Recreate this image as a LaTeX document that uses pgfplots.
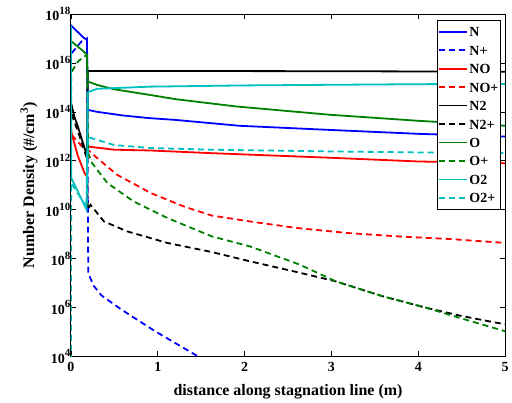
\documentclass[border=0pt]{standalone}
\usepackage{fontspec}
\setmainfont{Liberation Serif}
\usepackage{pgfplots}
\pgfplotsset{compat=1.18}
\definecolor{mblue}{rgb}{0,0,1}
\definecolor{mred}{rgb}{1,0,0}
\definecolor{mgreen}{rgb}{0,0.5,0}
\definecolor{mcyan}{rgb}{0,0.75,0.75}
\newcommand{\tp}[1]{10\raisebox{0.45em}{\fontsize{11}{11}\selectfont #1}}
\begin{document}
\begin{tikzpicture}
\begin{axis}[
  name=ax,
  scale only axis,
  width=435pt, height=343pt,
  ymode=log,
  xmin=0, xmax=5, ymin=1e4, ymax=1e18,
  xtick={0,1,2,3,4,5},
  xticklabels={0,1,2,3,4,5},
  ytick={1e4,1e6,1e8,1e10,1e12,1e14,1e16,1e18},
  yticklabels={\tp{4},\tp{6},\tp{8},\tp{10},\tp{12},\tp{14},\tp{16},\tp{18}},
  minor tick num=0,
  yminorticks=false,
  tick align=inside,
  major tick length=5pt,
  ticklabel style={font=\bfseries\fontsize{14}{14}\selectfont},
  yticklabel style={xshift=3pt},
  xticklabel style={yshift=-2pt},
  label style={font=\bfseries\fontsize{16}{18}\selectfont},
  xlabel={distance along stagnation line (m)},
  ylabel={Number Density (\#/cm\textsuperscript{3})},
  xlabel style={yshift=-6pt},
  ylabel style={yshift=1pt},
  axis line style={line width=0.8pt},
  every tick/.style={black, line width=0.6pt},
  legend style={at={(rel axis cs:0.991,0.983)}, anchor=north east,
    font=\bfseries\fontsize{14}{14}\selectfont, draw=black, line width=0.8pt,
    row sep=3.5pt, inner xsep=1pt, inner ysep=4pt,
    nodes={inner xsep=1.5pt, inner ysep=2.5pt, text height=10pt, text depth=0pt}},
  legend cell align=left,
  legend image code/.code={\draw[#1, line cap=butt] (0pt,0pt) -- (28pt,0pt);},
  clip=true,
]
% N
\addplot[mblue, line width=1.8pt] coordinates {(0,3.55e17)(0.01,3.16e17)(0.15,1.05e17)(0.185,8.71e16)(0.195,1.20e14)(0.3,1.0e14)(0.6,7.08e13)(0.91,5.50e13)(1.2,4.68e13)(1.94,2.69e13)(2.98,1.82e13)(4.0,1.26e13)(5,9.77e12)};
\addlegendentry{N}
% N+
\addplot[mblue, line width=1.8pt, dash pattern=on 6pt off 4pt] coordinates {(0.01,2.51e16)(0.12,7.41e16)(0.185,1.0e17)(0.2,2.51e7)(0.26,7.94e6)(0.35,3.16e6)(0.58,8.32e5)(0.97,1.07e5)(1.46,1.02e4)(1.6,5.0e3)};
\addlegendentry{N+}
% NO
\addplot[mred, line width=1.8pt] coordinates {(0,2.51e13)(0.01,1.26e13)(0.08,1.58e12)(0.157,3.16e11)(0.185,2.24e11)(0.195,3.80e12)(0.5,2.82e12)(0.91,2.63e12)(1.62,2.04e12)(3,1.32e12)(4,9.33e11)(5,7.94e11)};
\addlegendentry{NO}
% NO+
\addplot[mred, line width=1.8pt, dash pattern=on 6pt off 4pt] coordinates {(0.01,1.12e13)(0.15,3.16e12)(0.195,2.82e12)(0.28,1.51e12)(0.53,2.69e11)(0.92,4.79e10)(1.30,1.35e10)(1.62,5.75e9)(2.06,3.31e9)(2.6,1.78e9)(3.2,1.10e9)(3.8,7.94e8)(4.36,6.31e8)(5,4.37e8)};
\addlegendentry{NO+}
% N2
\addplot[black, line width=1.8pt] coordinates {(0,2.51e14)(0.04,6.31e13)(0.08,2.51e13)(0.15,3.98e12)(0.185,1.58e12)(0.195,4.68e15)(1,4.68e15)(3,4.57e15)(5,4.37e15)};
\addlegendentry{N2}
% N2+
\addplot[black, line width=1.8pt, dash pattern=on 6pt off 4pt] coordinates {(0.01,7.94e13)(0.1,1.0e13)(0.185,1.26e12)(0.195,1.0e10)(0.226,1.58e10)(0.38,3.31e9)(0.65,1.29e9)(1.11,4.37e8)(1.62,1.86e8)(2.06,7.76e7)(2.6,2.82e7)(3.05,1.17e7)(3.59,2.88e6)(4.09,9.77e5)(4.5,4.47e5)(5,2.04e5)};
\addlegendentry{N2+}
% O
\addplot[mgreen, line width=1.8pt] coordinates {(0,7.94e16)(0.01,7.41e16)(0.15,2.88e16)(0.185,2.14e16)(0.195,1.74e15)(0.3,1.26e15)(0.5,8.32e14)(0.91,4.90e14)(1.2,3.31e14)(1.9,1.66e14)(2.98,7.59e13)(4.01,4.27e13)(5,2.69e13)};
\addlegendentry{O}
% O+
\addplot[mgreen, line width=1.8pt, dash pattern=on 6pt off 4pt] coordinates {(0,1e3)(0.003,3.98e15)(0.08,1.12e16)(0.15,1.82e16)(0.185,2.0e16)(0.2,2.0e12)(0.245,7.94e11)(0.42,1.23e11)(0.72,2.19e10)(1.11,4.57e9)(1.62,8.13e8)(2.06,3.16e8)(2.63,5.75e7)(3.05,1.17e7)(3.59,2.88e6)(4.09,9.77e5)(4.5,3.55e5)(5,1.07e5)};
\addlegendentry{O+}
% O2
\addplot[mcyan, line width=1.8pt] coordinates {(0,3.16e17)(0.004,2.0e11)(0.18,1.0e10)(0.195,6.31e14)(0.3,8.71e14)(0.91,1.07e15)(2,1.20e15)(4.01,1.35e15)(5,1.38e15)};
\addlegendentry{O2}
% O2+
\addplot[mcyan, line width=1.8pt, dash pattern=on 6pt off 4pt] coordinates {(0,1e3)(0.004,1.26e11)(0.18,1.26e10)(0.2,1.0e13)(0.23,8.51e12)(0.5,4.37e12)(0.92,3.31e12)(1.62,2.82e12)(3,2.40e12)(4,2.19e12)(5,2.09e12)};
\addlegendentry{O2+}
\end{axis}
\path ([xshift=-71pt,yshift=-46pt]ax.south west) rectangle ([xshift=6pt,yshift=14pt]ax.north east);
\end{tikzpicture}
\end{document}
